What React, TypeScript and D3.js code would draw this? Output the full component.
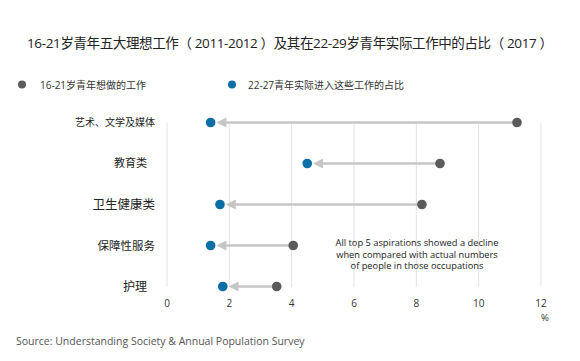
import React from "react";
import * as d3 from "d3";

const categories = ["艺术、文学及媒体", "教育类", "卫生健康类", "保障性服务", "护理"];
const aspiration = [11.23, 8.76, 8.18, 4.05, 3.52];
const actual = [1.4, 4.5, 1.7, 1.4, 1.79];
const xTicks = [0, 2, 4, 6, 8, 10, 12];
const labelSizes = [10, 11, 12.5, 11.5, 12];
const noteLines = [
  "All top 5 aspirations showed a decline",
  "when compared with actual numbers",
  "of people in those occupations",
];

const FONT = "'Open Sans', 'Noto Sans CJK SC', sans-serif";

export default function App() {
  const W = 580, H = 361;
  const x = d3.scaleLinear().domain([0, 12]).range([167, 541]);
  const y = d3.scalePoint<string>().domain(categories).range([122.5, 286.5]);
  const grey = "#5b5b5b";
  const blue = "#0b6ea6";
  const lineC = "#c6c6c6";
  const r = 4.8;

  return (
    <svg width={W} height={H} style={{ position: "absolute", left: 0, top: 0, background: "#fff" }}>
      <text x={27} y={48} fontSize={13.5} fill="#222" fontFamily={FONT} textLength={526} lengthAdjust="spacing">
        16-21岁青年五大理想工作（ 2011-2012 ）及其在22-29岁青年实际工作中的占比（ 2017 ）
      </text>
      {/* legend */}
      <circle cx={22} cy={84.5} r={4} fill={grey} />
      <text x={40} y={88.5} fontSize={10} fill="#333" fontFamily={FONT}>16-21岁青年想做的工作</text>
      <circle cx={232} cy={84.5} r={4} fill={blue} />
      <text x={248} y={88.5} fontSize={10} fill="#333" fontFamily={FONT}>22-27青年实际进入这些工作的占比</text>

      {/* grid */}
      {xTicks.map((t) => (
        <line key={t} x1={x(t)} x2={x(t)} y1={123} y2={287} stroke="#e3e3e3" strokeWidth={1} />
      ))}
      {xTicks.map((t) => (
        <text key={"t" + t} x={x(t)} y={307} textAnchor="middle" fontSize={10} fill="#333" fontFamily={FONT}>
          {t}
        </text>
      ))}
      <text x={545} y={321} textAnchor="middle" fontSize={9.5} fill="#333" fontFamily={FONT}>%</text>

      {categories.map((c, i) => {
        const yy = y(c)!;
        const xa = x(actual[i]);
        const xg = x(aspiration[i]);
        const tip = xa + r + 1;
        const head = 10;
        return (
          <g key={c}>
            <line x1={xg} x2={tip + head - 1} y1={yy} y2={yy} stroke={lineC} strokeWidth={2.5} />
            <path
              d={`M${tip},${yy} L${tip + head},${yy - 5} L${tip + head},${yy + 5} Z`}
              fill={lineC}
            />
            <circle cx={xg} cy={yy} r={r} fill={grey} />
            <circle cx={xa} cy={yy} r={r} fill={blue} />
            <text
              x={i === 1 || i === 4 ? 147 : 155}
              y={yy + labelSizes[i] * 0.36}
              textAnchor="end"
              fontSize={labelSizes[i]}
              fill="#222"
              fontFamily={FONT}
            >
              {c}
            </text>
          </g>
        );
      })}

      {noteLines.map((l, i) => (
        <text key={i} x={417} y={246 + i * 11.5} textAnchor="middle" fontSize={9.3} fill="#222" fontFamily={FONT}>
          {l}
        </text>
      ))}

      <text x={16} y={345} fontSize={10.5} fill="#555" fontFamily={FONT}>
        Source: Understanding Society &amp; Annual Population Survey
      </text>
    </svg>
  );
}
